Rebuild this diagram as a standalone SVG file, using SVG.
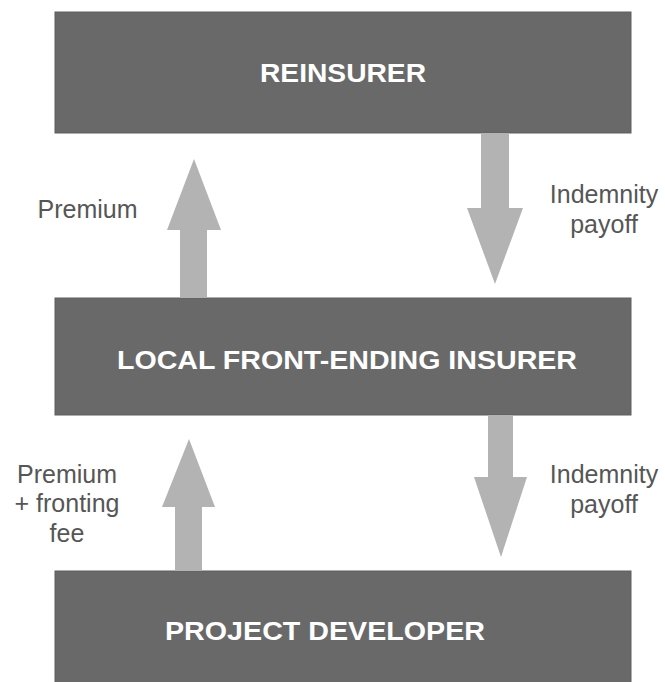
<svg xmlns="http://www.w3.org/2000/svg" width="665" height="682" viewBox="0 0 665 682">
<style>
.box{fill:#696969;stroke:#5e5e5e;stroke-width:1}
.bt{font-family:"Liberation Sans",Arial,sans-serif;font-weight:bold;font-size:26px;fill:#ffffff}
.lb{font-family:"Liberation Sans",Arial,sans-serif;font-size:25px;fill:#565656;text-anchor:middle}
.ar{fill:#b3b3b3}
</style>
<rect width="665" height="682" fill="#ffffff"/>
<g id="reinsurer">
<rect class="box" x="55" y="12" width="576" height="121"/>
<text class="bt" x="260" y="82" textLength="166" lengthAdjust="spacingAndGlyphs">REINSURER</text>
</g>
<g id="local-insurer">
<rect class="box" x="55" y="298" width="576" height="117"/>
<text class="bt" x="117" y="369" textLength="460" lengthAdjust="spacingAndGlyphs">LOCAL FRONT-ENDING INSURER</text>
</g>
<g id="project-developer">
<rect class="box" x="55" y="571" width="576" height="115"/>
<text class="bt" x="165" y="640" textLength="320" lengthAdjust="spacingAndGlyphs">PROJECT DEVELOPER</text>
</g>
<g id="connectors">
<polygon class="ar" points="180,298 180,230 167,230 194,159 221,230 207,230 207,298"/>
<polygon class="ar" points="481,133 509,133 509,208 523,208 495,284 467,208 481,208"/>
<polygon class="ar" points="175,571 175,507 162,507 189,439 215,507 202,507 202,571"/>
<polygon class="ar" points="488,415 513,415 513,477 527,477 501,557 474,477 488,477"/>
</g>
<g id="labels">
<text class="lb" x="87.5" y="218">Premium</text>
<text class="lb" x="604" y="203">Indemnity</text>
<text class="lb" x="604" y="233">payoff</text>
<text class="lb" x="67" y="483">Premium</text>
<text class="lb" x="67" y="512">+ fronting</text>
<text class="lb" x="67" y="542">fee</text>
<text class="lb" x="604" y="483">Indemnity</text>
<text class="lb" x="604" y="513">payoff</text>
</g>
</svg>
